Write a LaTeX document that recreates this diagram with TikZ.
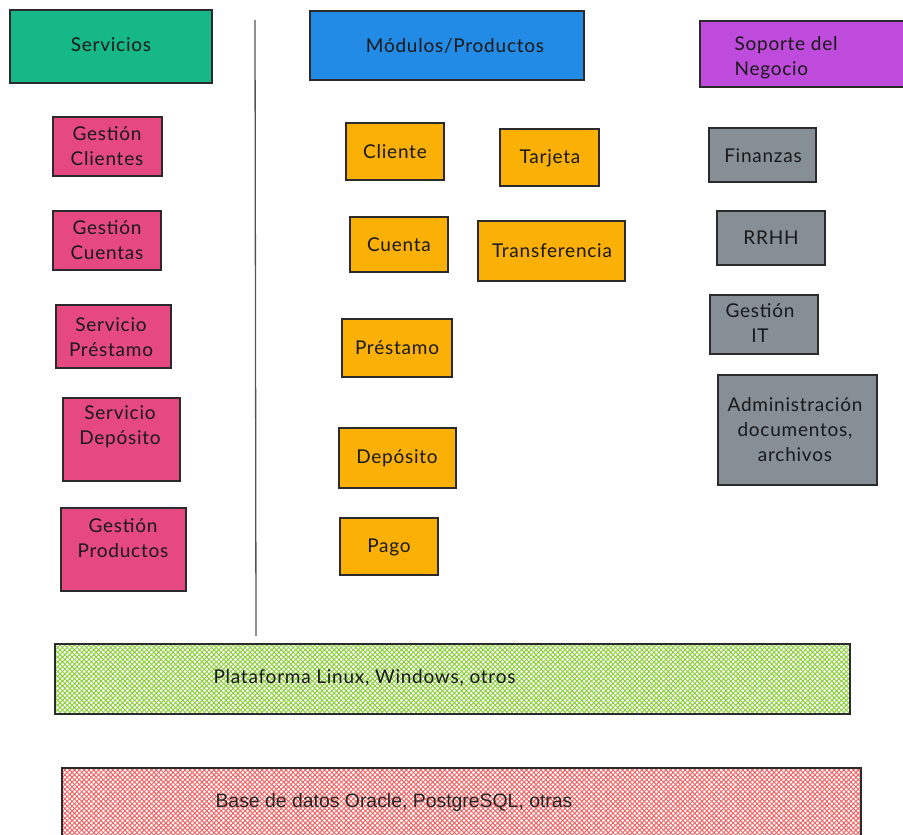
\documentclass[tikz,border=0pt]{standalone}
\usepackage{fontspec}
\setmainfont{Lato}[LetterSpace=4]
\newfontfamily\arialfont{Liberation Sans}
\usetikzlibrary{patterns.meta}
\definecolor{cgreen}{HTML}{15B886}
\definecolor{cblue}{HTML}{228BE6}
\definecolor{cpurple}{HTML}{BE4BDB}
\definecolor{cpink}{HTML}{E64980}
\definecolor{corange}{HTML}{FAB005}
\definecolor{cgray}{HTML}{868E96}
\definecolor{hgreen}{HTML}{8CCF3C}
\definecolor{hred}{HTML}{F26464}
\definecolor{edge}{HTML}{2B2B2B}
\tikzset{
  card/.style={draw=edge, line width=1.1pt},
  lbl/.style={align=center, text=black!90, font=\fontsize{19}{25}\selectfont},
  hatchA/.style={pattern={Lines[angle=45,distance=3.4pt,line width=1pt]}, pattern color=#1},
  hatchB/.style={pattern={Lines[angle=-45,distance=3.4pt,line width=1pt]}, pattern color=#1},
}
\newcommand{\card}[6]{% name, x1, y1, x2, y2, fill
  \path[card, fill=#6] (#2,#3) rectangle (#4,#5);
  \coordinate (#1) at ({(#2+#4)/2},{(#3+#5)/2});}
\begin{document}
\begin{tikzpicture}[x=1pt,y=-1pt]
\useasboundingbox (0,0) rectangle (903,835);

% column headers
\card{servicios}{10}{10}{212}{83}{cgreen}
\node[lbl] at (111,45) {Servicios};
\card{modulos}{310}{11}{584}{80}{cblue}
\node[lbl] at (455,46) {Módulos/Productos};
\card{soporte}{700}{21}{910}{87}{cpurple}
\node[lbl, align=left, anchor=west] at (731,58) {Soporte del\\Negocio};

% separator between services and modules
\coordinate (sepA) at (255,20);
\coordinate (sepB) at (256,636);
\draw[edge!80, line width=1.3pt] (sepA) -- (sepB);

% services
\card{gc}{53}{117}{162}{176}{cpink}
\node[lbl] at (107,146) {Gestión\\Clientes};
\card{gcu}{53}{211}{161}{270}{cpink}
\node[lbl] at (107,240) {Gestión\\Cuentas};
\card{sp}{56}{305}{171}{368}{cpink}
\node[lbl] at (111,337) {Servicio\\Préstamo};
\card{sd}{63}{398}{180}{481}{cpink}
\node[lbl] at (120,427) {Servicio\\Depósito};
\card{gp}{61}{508}{186}{591}{cpink}
\node[lbl] at (123,538) {Gestión\\Productos};

% modules
\card{cli}{346}{123}{444}{180}{corange}
\node[lbl] at (395,152) {Cliente};
\card{tar}{500}{129}{599}{186}{corange}
\node[lbl] at (550,158) {Tarjeta};
\card{cue}{350}{217}{448}{272}{corange}
\node[lbl] at (399,245) {Cuenta};
\card{tra}{478}{221}{625}{281}{corange}
\node[lbl] at (552,251) {Transferencia};
\card{pre}{342}{319}{452}{377}{corange}
\node[lbl] at (397,348) {Préstamo};
\card{dep}{339}{428}{456}{488}{corange}
\node[lbl] at (397,458) {Depósito};
\card{pag}{340}{518}{438}{575}{corange}
\node[lbl] at (389,547) {Pago};

% business support
\card{fin}{709}{128}{816}{182}{cgray}
\node[lbl] at (763,156) {Finanzas};
\card{rrhh}{717}{211}{825}{265}{cgray}
\node[lbl] at (771,238) {RRHH};
\card{git}{710}{295}{818}{354}{cgray}
\node[lbl] at (760,323) {Gestión\\IT};
\card{adm}{718}{375}{877}{485}{cgray}
\node[lbl] at (795,430) {Administración\\documentos,\\archivos};

% platform layer
\path[hatchA=hgreen] (55,644) rectangle (850,714);
\path[hatchB=hgreen] (55,644) rectangle (850,714);
\draw[edge, line width=1.1pt] (55,644) rectangle (850,714);
\node[lbl, anchor=west] at (210,678) {Plataforma Linux, Windows, otros};

% database layer
\path[hatchA=hred] (62,768) rectangle (861,840);
\path[hatchB=hred] (62,768) rectangle (861,840);
\draw[edge, line width=1.1pt] (62,840) -- (62,768) -- (861,768) -- (861,840);
\node[anchor=west, text=black!85, font=\arialfont\fontsize{19.4}{23}\selectfont] at (212,802) {Base de datos Oracle, PostgreSQL, otras};
\end{tikzpicture}
\end{document}
